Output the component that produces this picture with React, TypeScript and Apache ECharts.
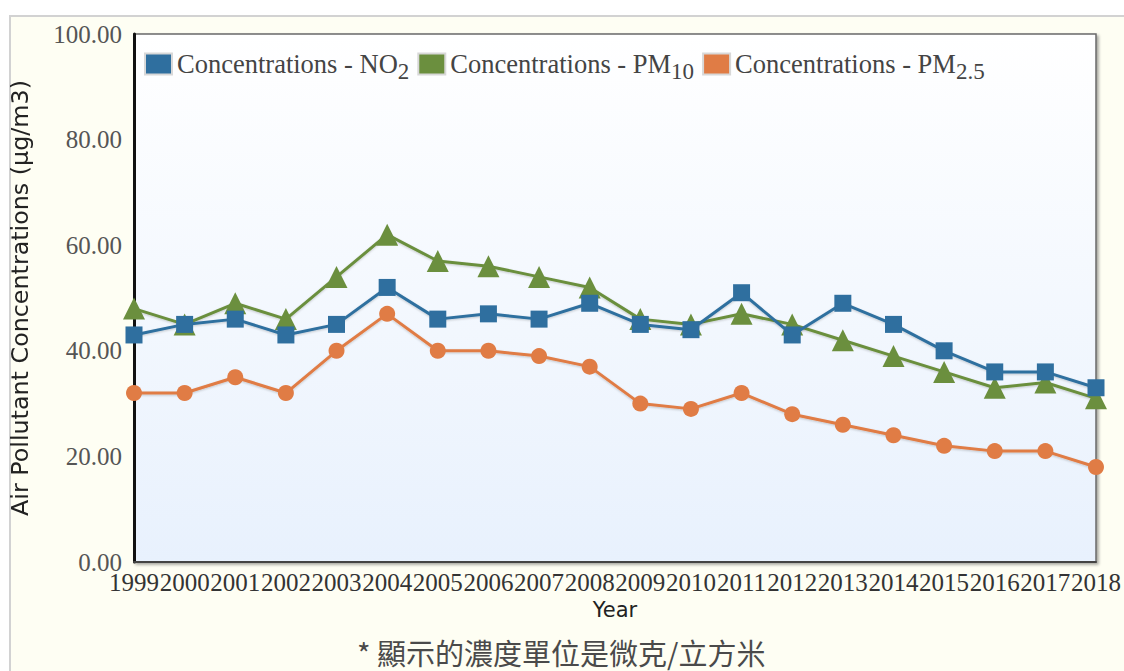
import React, { useEffect, useRef } from "react";
import * as echarts from "echarts";

const years = ["1999","2000","2001","2002","2003","2004","2005","2006","2007","2008","2009","2010","2011","2012","2013","2014","2015","2016","2017","2018"];
const no2 = [43, 45, 46, 43, 45, 52, 46, 47, 46, 49, 45, 44, 51, 43, 49, 45, 40, 36, 36, 33];
const pm10 = [48, 45, 49, 46, 54, 62, 57, 56, 54, 52, 46, 45, 47, 45, 42, 39, 36, 33, 34, 31];
const pm25 = [32, 32, 35, 32, 40, 47, 40, 40, 39, 37, 30, 29, 32, 28, 26, 24, 22, 21, 21, 18];
const seriesNames = ["Concentrations - NO2", "Concentrations - PM10", "Concentrations - PM2.5"];
const legendLabels: Record<string, [string, string]> = {
  "Concentrations - NO2": ["Concentrations - NO", "2"],
  "Concentrations - PM10": ["Concentrations - PM", "10"],
  "Concentrations - PM2.5": ["Concentrations - PM", "2.5"],
};
const yAxisTitle = "Air Pollutant Concentrations (μg/m3)";
const xAxisTitle = "Year";
const caption = "* 顯示的濃度單位是微克/立方米";

export default function App() {
  const ref = useRef<HTMLDivElement>(null);
  useEffect(() => {
    if (!ref.current) return;
    const chart = echarts.init(ref.current, null, { renderer: "svg" });
    const colors = ["#2f6f9f", "#6b8f3e", "#e07c45"];
    const symbols = ["rect", "triangle", "circle"];
    const sizes = [17, 22, 16];
    const data = [no2, pm10, pm25];
    chart.setOption({
      animation: false,
      color: colors,
      grid: {
        left: 127,
        right: 20,
        top: 34,
        bottom: 109,
        show: true,
        backgroundColor: new echarts.graphic.LinearGradient(0, 0, 0, 1, [
          { offset: 0, color: "#ffffff" },
          { offset: 1, color: "#e8f1fd" },
        ]),
        borderColor: "#6a6a6a",
        borderWidth: 1.5,
        shadowColor: "rgba(0,0,0,0.35)",
        shadowBlur: 3,
        shadowOffsetX: 2,
        shadowOffsetY: 2,
      },
      legend: {
        left: 139,
        top: 45,
        icon: "rect",
        itemWidth: 27,
        itemHeight: 21,
        itemGap: 8,
        data: seriesNames,
        itemStyle: { borderColor: "#d8d8d8", borderWidth: 2 },
        formatter: (name: string) => {
          const p = legendLabels[name];
          return `{m|${p[0]}}{s|${p[1]}}`;
        },
        textStyle: {
          fontFamily: "Liberation Serif",
          color: "#444",
          rich: {
            m: { fontFamily: "Liberation Serif", fontSize: 26.5, color: "#444", verticalAlign: "top", lineHeight: 28 },
            s: { fontFamily: "Liberation Serif", fontSize: 23, color: "#444", verticalAlign: "top", lineHeight: 23, padding: [10, 0, 0, 0] },
          },
        },
      },
      xAxis: {
        type: "category",
        data: years,
        boundaryGap: false,
        name: xAxisTitle,
        nameLocation: "middle",
        nameGap: 35,
        nameTextStyle: { fontFamily: "DejaVu Sans", fontSize: 21, color: "#222" },
        axisLine: { lineStyle: { color: "#444", width: 2 } },
        axisTick: { show: false },
        axisLabel: {
          interval: 0,
          hideOverlap: false,
          margin: 8,
          fontFamily: "Liberation Serif",
          fontSize: 25,
          color: "#333",
        },
        splitLine: { show: false },
      },
      yAxis: {
        type: "value",
        min: 0,
        max: 100,
        interval: 20,
        name: yAxisTitle,
        nameLocation: "middle",
        nameGap: 102,
        nameTextStyle: { fontFamily: "DejaVu Sans", fontSize: 23.8, color: "#222" },
        axisLine: { show: true, lineStyle: { color: "#111", width: 3 } },
        axisTick: { show: false },
        axisLabel: {
          margin: 12,
          fontFamily: "Liberation Serif",
          fontSize: 25,
          color: "#555",
          formatter: (v: number) => v.toFixed(2),
        },
        splitLine: { show: false },
      },
      series: seriesNames.map((n, i) => ({
        name: n,
        type: "line",
        data: data[i],
        symbol: symbols[i],
        symbolSize: sizes[i],
        showSymbol: true,
        lineStyle: { width: 3, color: colors[i], shadowColor: "rgba(0,0,0,0.2)", shadowBlur: 2, shadowOffsetY: 1 },
        itemStyle: { color: colors[i] },
        z: 3 - i,
      })),
      graphic: [
        {
          type: "text",
          left: 357,
          top: 637,
          style: {
            text: caption,
            fontFamily: "Noto Sans CJK TC",
            fontSize: 29,
            fill: "#4a4a4a",
          },
        },
      ],
    });
    return () => chart.dispose();
  }, []);
  return (
    <div style={{ position: "fixed", left: 0, top: 0, width: 1124, height: 671, overflow: "hidden" }}>
      <div
        style={{
          position: "absolute",
          left: 9,
          top: 15,
          width: 1124,
          height: 671,
          borderLeft: "2px solid #d2d2d2",
          borderTop: "2px solid #d2d2d2",
          background: "#fefef3",
          boxSizing: "border-box",
        }}
      />
      <div ref={ref} style={{ position: "absolute", left: 0, top: 0, width: 1124, height: 671 }} />
    </div>
  );
}
